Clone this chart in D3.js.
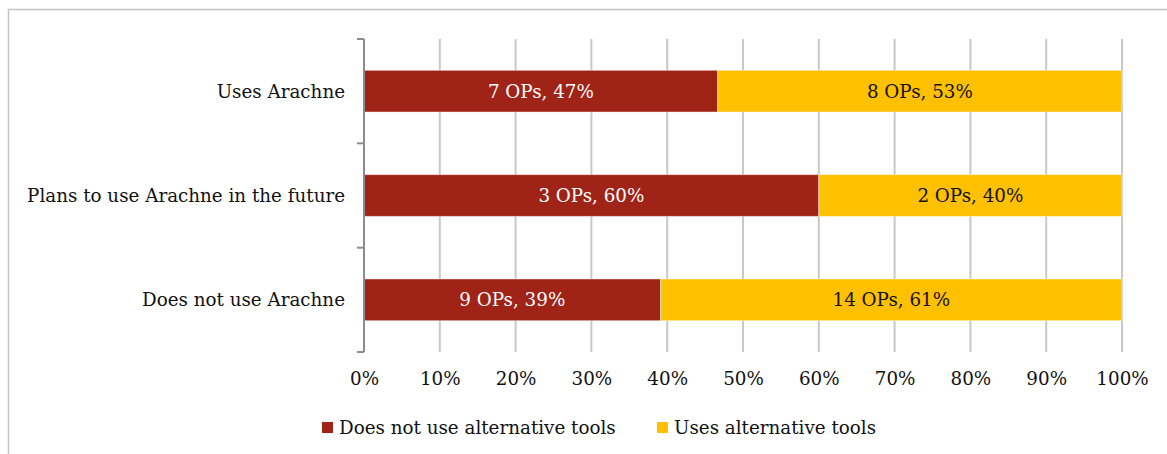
<!DOCTYPE html>
<html>
<head>
<meta charset="utf-8">
<script src="https://cdn.jsdelivr.net/npm/d3@7"></script>
<style>
  html, body { margin: 0; padding: 0; background: #fff; }
  svg { display: block; }
</style>
</head>
<body>
<svg id="chart" width="1167" height="454"></svg>
<script>
const categories = ["Uses Arachne", "Plans to use Arachne in the future", "Does not use Arachne"];
const seriesNames = ["Does not use alternative tools", "Uses alternative tools"];
const notUseCounts = [7, 3, 9];
const useCounts = [8, 2, 14];
const notUsePct = [47, 60, 39];
const usePct = [53, 40, 61];
const xTicks = [0, 0.1, 0.2, 0.3, 0.4, 0.5, 0.6, 0.7, 0.8, 0.9, 1.0];
const colors = ["#A02318", "#FFC000"];

const svg = d3.select("#chart");
const fontFamily = "'DejaVu Serif', Georgia, serif";

// calibrate font size so widths resemble the Georgia original
const probe = svg.append("text").attr("font-family", fontFamily).attr("font-size", 100)
  .text("Plans to use Arachne in the future");
const w100 = probe.node().getComputedTextLength();
probe.remove();
const fs = 100 * 318 / w100;

// outer border
svg.append("rect")
  .attr("x", 8.5).attr("y", 9.5).attr("width", 1200).attr("height", 500)
  .attr("fill", "none").attr("stroke", "#c4c4c4").attr("stroke-width", 1.5);

const margin = { left: 364, right: 1122, top: 39, bottom: 352 };
const x = d3.scaleLinear().domain([0, 1]).range([margin.left, margin.right]);
const y = d3.scaleBand().domain(categories).range([margin.top, margin.bottom])
  .paddingInner(0.6).paddingOuter(0.3);

// gridlines
svg.append("g").selectAll("line").data(xTicks.slice(1)).join("line")
  .attr("x1", d => x(d)).attr("x2", d => x(d))
  .attr("y1", margin.top).attr("y2", margin.bottom)
  .attr("stroke", "#c8c8c8").attr("stroke-width", 2);

// stacked data
const rows = categories.map((c, i) => {
  const total = notUseCounts[i] + useCounts[i];
  return {
    cat: c,
    segs: [
      { s: 0, x0: 0, x1: notUseCounts[i] / total, n: notUseCounts[i], p: notUsePct[i] },
      { s: 1, x0: notUseCounts[i] / total, x1: 1, n: useCounts[i], p: usePct[i] }
    ]
  };
});

const g = svg.append("g").selectAll("g").data(rows).join("g");
g.selectAll("rect").data(d => d.segs.map(s => ({ ...s, cat: d.cat }))).join("rect")
  .attr("x", d => x(d.x0)).attr("width", d => x(d.x1) - x(d.x0))
  .attr("y", d => y(d.cat)).attr("height", y.bandwidth())
  .attr("fill", d => colors[d.s])
  .attr("stroke", "rgba(255,255,255,0.45)").attr("stroke-width", 1);

g.selectAll("text").data(d => d.segs.map(s => ({ ...s, cat: d.cat }))).join("text")
  .attr("x", d => (x(d.x0) + x(d.x1)) / 2)
  .attr("y", d => y(d.cat) + y.bandwidth() / 2)
  .attr("dy", "0.36em")
  .attr("text-anchor", "middle")
  .attr("font-family", fontFamily).attr("font-size", fs)
  .attr("fill", d => d.s === 0 ? "#ffffff" : "#111111")
  .text(d => `${d.n} OPs, ${d.p}%`);

// y axis
const step = y.step();
const boundaries = d3.range(categories.length + 1).map(i => margin.top + i * (margin.bottom - margin.top) / categories.length);
const ya = svg.append("g");
ya.append("line").attr("x1", margin.left).attr("x2", margin.left)
  .attr("y1", margin.top).attr("y2", margin.bottom)
  .attr("stroke", "#8c8c8c").attr("stroke-width", 2);
ya.selectAll("line.tick").data(boundaries).join("line").attr("class", "tick")
  .attr("x1", margin.left - 7).attr("x2", margin.left)
  .attr("y1", d => d).attr("y2", d => d)
  .attr("stroke", "#8c8c8c").attr("stroke-width", 2);
ya.selectAll("text").data(categories).join("text")
  .attr("x", margin.left - 19)
  .attr("y", d => y(d) + y.bandwidth() / 2)
  .attr("dy", "0.36em")
  .attr("text-anchor", "end")
  .attr("font-family", fontFamily).attr("font-size", fs)
  .attr("fill", "#111")
  .text(d => d);

// x axis labels
const xa = svg.append("g").attr("transform", `translate(0,${margin.bottom})`)
  .call(d3.axisBottom(x).tickValues(xTicks).tickFormat(d3.format(".0%")).tickSize(0).tickPadding(20));
xa.select(".domain").remove();
xa.selectAll("text").attr("font-family", fontFamily).attr("font-size", fs).attr("fill", "#111");

// legend
const legendItems = [
  { name: seriesNames[0], color: colors[0], x: 322 },
  { name: seriesNames[1], color: colors[1], x: 657 }
];
const lg = svg.append("g").selectAll("g").data(legendItems).join("g")
  .attr("transform", d => `translate(${d.x},422)`);
lg.append("rect").attr("width", 11).attr("height", 11).attr("fill", d => d.color);
lg.append("text").attr("x", 17).attr("y", 5.5).attr("dy", "0.36em")
  .attr("font-family", fontFamily).attr("font-size", fs).attr("fill", "#111")
  .text(d => d.name);
</script>
</body>
</html>
